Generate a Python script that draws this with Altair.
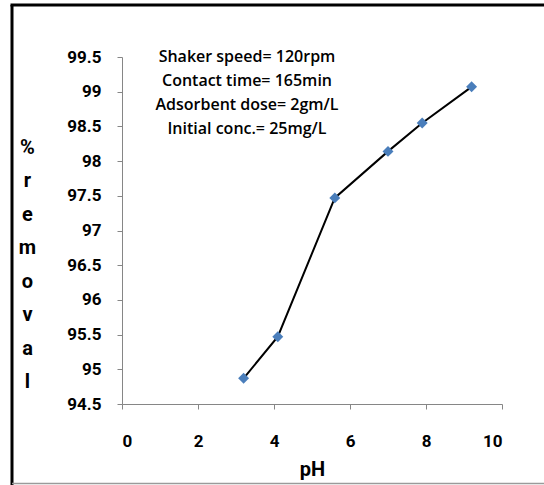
import altair as alt
import pandas as pd

ph = [3.2, 4.1, 5.6, 7.0, 7.9, 9.2]
removal = [94.87, 95.47, 97.47, 98.14, 98.55, 99.07]
x_ticks = [0, 2, 4, 6, 8, 10]
y_ticks = [94.5, 95, 95.5, 96, 96.5, 97, 97.5, 98, 98.5, 99, 99.5]
y_title = ["%", "r", "e", "m", "o", "v", "a", "l"]
notes = ["Shaker speed= 120rpm", "Contact time= 165min",
         "Adsorbent dose= 2gm/L", "Initial conc.= 25mg/L"]

df = pd.DataFrame({"pH": ph, "removal": removal})

LBL = "Roboto"

x = alt.X("pH:Q", scale=alt.Scale(domain=[0, 10], nice=False),
          axis=alt.Axis(values=x_ticks, tickCount=len(x_ticks), title="pH", grid=False,
                        domainColor="#868686", tickColor="#868686", tickSize=5,
                        labelFont=LBL, labelFontWeight="bold", labelFontSize=17,
                        labelColor="black", labelPadding=24,
                        titleFont=LBL, titleFontWeight="bold", titleFontSize=20,
                        titleColor="black", titlePadding=10))
y = alt.Y("removal:Q", scale=alt.Scale(domain=[94.5, 99.5], nice=False, zero=False),
          axis=alt.Axis(values=y_ticks, tickCount=len(y_ticks), format=".1~f",
                        title=y_title, grid=False, labelOverlap=False,
                        domainColor="#868686", tickColor="#868686", tickSize=5,
                        labelFont=LBL, labelFontWeight="bold", labelFontSize=17,
                        labelColor="black", labelPadding=16,
                        titleFont=LBL, titleFontWeight="bold", titleFontSize=20,
                        titleColor="black", titleAngle=0, titleAlign="center",
                        titleBaseline="alphabetic", titleX=-95, titleY=96,
                        titleLineHeight=33.5))

base = alt.Chart(df)
line = base.mark_line(color="black", strokeWidth=2).encode(x=x, y=y)
pts = base.mark_point(shape="diamond", filled=True, color="#4A7EBB",
                      size=120, opacity=1).encode(x="pH:Q", y="removal:Q")

one = alt.Chart(pd.DataFrame({"a": [0]}))
note = one.mark_text(text=notes, font="Open Sans", fontSize=16, fontWeight=600,
                     lineHeight=24, align="center", baseline="top",
                     color="black").encode(x=alt.value(125), y=alt.value(-8))

frame_left = one.mark_rule(color="black", strokeWidth=3).encode(
    x=alt.value(-110), y=alt.value(-52), y2=alt.value(430))
frame_top = one.mark_rule(color="black", strokeWidth=3).encode(
    x=alt.value(-111.5), x2=alt.value(440), y=alt.value(-52))
frame_bottom = one.mark_rule(color="#9a9a9a", strokeWidth=1.5).encode(
    x=alt.value(-110), x2=alt.value(440), y=alt.value(426.5))

chart = alt.layer(line, pts, note, frame_left, frame_top, frame_bottom).properties(
    width=380, height=347,
    autosize=alt.AutoSizeParams(type="none"),
    padding={"left": 122, "top": 57, "right": 42, "bottom": 81},
    background="white",
).configure_view(stroke=None)

chart.save("out.html", embed_options={"renderer": "svg", "actions": False})
